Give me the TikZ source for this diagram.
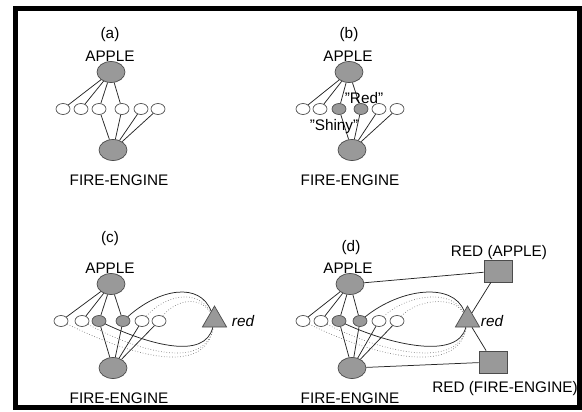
\documentclass[tikz,border=0pt]{standalone}
\usepackage{fontspec}
\setmainfont{Liberation Sans}
\usetikzlibrary{shapes.geometric}
\begin{document}
\begin{tikzpicture}[x=1pt,y=-1pt,
 big/.style={ellipse, draw=black!70, fill=black!40, minimum width=28pt, minimum height=21pt, inner sep=0pt, line width=0.7pt},
 sm/.style={ellipse, draw=black!70, fill=white, minimum width=14pt, minimum height=11pt, inner sep=0pt, line width=0.7pt},
 smf/.style={sm, fill=black!40},
 lbl/.style={font=\fontsize{15.3}{18}\selectfont, inner sep=0pt},
 tri/.style={regular polygon, regular polygon sides=3, draw=black!70, fill=black!40, minimum size=28pt, inner sep=0pt, line width=0.7pt},
 sq/.style={rectangle, draw=black!70, fill=black!40, minimum width=28pt, minimum height=22pt, inner sep=0pt, line width=0.7pt},
 ln/.style={draw=black!85, line width=0.75pt},
 dl/.style={draw=black!50, dotted, line width=0.7pt}]
\useasboundingbox (0,0) rectangle (582,412);
\draw[line width=5pt] (15,8.5) rectangle (579.5,407.5);

% ---------- (a)
\node[lbl] (la) at (110,35) {(a)};
\node[lbl] (ta) at (110,56) {APPLE};
\node[big] (aa) at (111,72) {};
\node[big] (fa) at (113,150) {};
\node[lbl] (tfa) at (119,180) {FIRE-ENGINE};
\foreach \i/\x in {1/63,2/81,3/99,4/122,5/141,6/158}
  \node[sm] (a\i) at (\x,109) {};
\foreach \i in {1,2,3,4} \draw[ln] (aa) -- (a\i);
\foreach \i in {3,4,5,6} \draw[ln] (fa) -- (a\i);

% ---------- (b)
\node[lbl] (lb) at (349,35) {(b)};
\node[lbl] (tb) at (348,56) {APPLE};
\node[big] (ab) at (349,72) {};
\node[big] (fb) at (352,150) {};
\node[lbl] (tfb) at (350,180) {FIRE-ENGINE};
\foreach \i/\x in {1/303,2/320,5/379,6/397}
  \node[sm] (b\i) at (\x,109) {};
\node[smf] (b3) at (339,109) {};
\node[smf] (b4) at (361,109) {};
\foreach \i in {1,2,3,4} \draw[ln] (ab) -- (b\i);
\foreach \i in {3,4,5,6} \draw[ln] (fb) -- (b\i);
\node[lbl] (red) at (364,98) {\symbol{34}Red\symbol{34}};
\node[lbl] (shiny) at (334,127) {\symbol{34}Shiny\symbol{34}};

% ---------- (c)
\node[lbl] (lc) at (110,239) {(c)};
\node[lbl] (tc) at (110,268) {APPLE};
\node[big] (ac) at (111,284) {};
\node[big] (fc) at (113,368) {};
\node[lbl] (tfc) at (119,398) {FIRE-ENGINE};
\foreach \i/\x in {1/61,2/82,5/142,6/159}
  \node[sm] (c\i) at (\x,321) {};
\node[smf] (c3) at (99,321) {};
\node[smf] (c4) at (123,321) {};
\node[tri] (trc) at (214.5,320) {};
\node[lbl,font=\fontsize{15.3}{18}\selectfont\itshape] (rc) at (243,321) {red};
\foreach \i in {1,2,3,4} \draw[ln] (ac) -- (c\i);
\foreach \i in {3,4,5,6} \draw[ln] (fc) -- (c\i);
\draw[dl] (c5) .. controls (165,295) and (198,288) .. (trc);
\draw[dl] (c6) .. controls (175,300) and (200,295) .. (trc);
\draw[dl] (c1) .. controls (130,355) and (205,378) .. (trc);
\draw[dl] (c2) .. controls (135,350) and (205,372) .. (trc);
\draw[ln] (c4) .. controls (160,288) and (200,282) .. (trc);
\draw[ln] (c3) .. controls (150,345) and (205,360) .. (trc);

% ---------- (d)
\node[lbl] (ld) at (351,248) {(d)};
\node[lbl] (td) at (348,268) {APPLE};
\node[big] (ad) at (350,284) {};
\node[big] (fd) at (352,368) {};
\node[lbl] (tfd) at (350,398) {FIRE-ENGINE};
\foreach \i/\x in {1/303,2/321,5/379,6/397}
  \node[sm] (d\i) at (\x,321) {};
\node[smf] (d3) at (339,321) {};
\node[smf] (d4) at (360,321) {};
\node[tri] (trd) at (467.5,320) {};
\node[lbl,font=\fontsize{15.3}{18}\selectfont\itshape] (rd) at (492,321) {red};
\node[sq] (sqa) at (498,271) {};
\node[sq] (sqf) at (493,362) {};
\node[lbl] (tsqa) at (499,253) {RED (APPLE)};
\node[lbl] (tsqf) at (505,389) {RED (FIRE-ENGINE)};
\foreach \i in {1,2,3,4} \draw[ln] (ad) -- (d\i);
\foreach \i in {3,4,5,6} \draw[ln] (fd) -- (d\i);
\draw[dl] (d5) .. controls (406,295) and (451,288) .. (trd);
\draw[dl] (d6) .. controls (416,300) and (453,295) .. (trd);
\draw[dl] (d1) .. controls (371,355) and (458,378) .. (trd);
\draw[dl] (d2) .. controls (376,350) and (458,372) .. (trd);
\draw[ln] (d4) .. controls (401,288) and (453,282) .. (trd);
\draw[ln] (d3) .. controls (391,345) and (458,360) .. (trd);
\draw[ln] (ad) -- (sqa);
\draw[ln] (fd) -- (sqf);
\draw[ln] (trd) -- (sqa);
\draw[ln] (trd) -- (sqf);
\end{tikzpicture}
\end{document}
